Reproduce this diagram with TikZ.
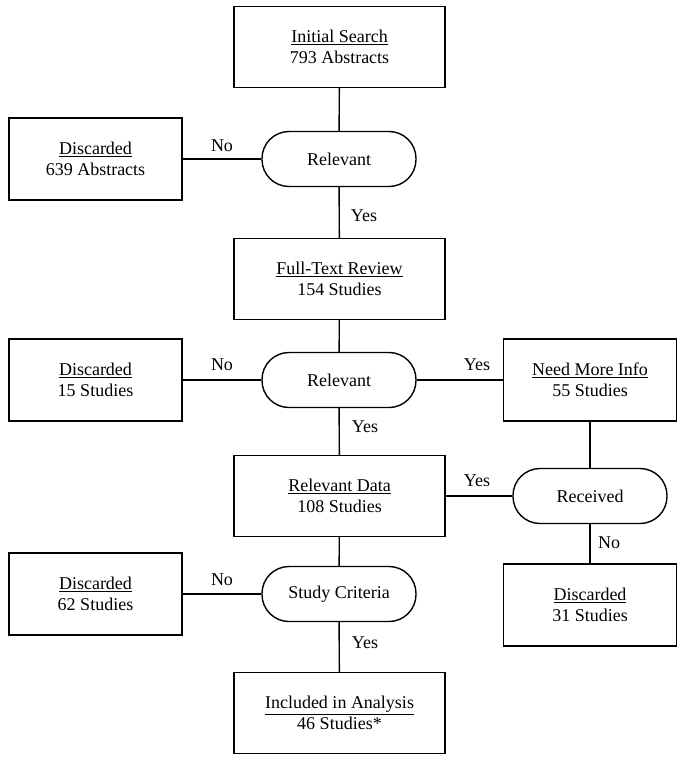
\documentclass[tikz,border=0pt]{standalone}
\usepackage{fontspec}
\setmainfont{Liberation Serif}
\begin{document}
\begin{tikzpicture}[x=1pt,y=1pt,
  every node/.style={font=\fontsize{18}{21}\selectfont, inner sep=0pt},
  bigbox/.style={draw, line width=1.4pt, minimum width=211pt, minimum height=81pt, align=center},
  sidebox/.style={draw, line width=1.4pt, minimum width=173pt, minimum height=82pt, align=center},
  decide/.style={draw, line width=1.4pt, rounded corners=27pt, minimum width=154pt, minimum height=55pt, align=center},
  conn/.style={line width=1.4pt},
  lbl/.style={}
]
\useasboundingbox (0,0) rectangle (685,-763);
\node[bigbox] (init) at (339.5,-47) {\underline{Initial Search}\\793 Abstracts};
\node[sidebox] (disc1) at (95.5,-159) {\underline{Discarded}\\639 Abstracts};
\node[decide] (rel1) at (339,-159) {Relevant};
\node[bigbox] (full) at (339.5,-279) {\underline{Full-Text Review}\\154 Studies};
\node[sidebox] (disc2) at (95.5,-380) {\underline{Discarded}\\15 Studies};
\node[decide] (rel2) at (339,-380) {Relevant};
\node[sidebox] (need) at (590,-380) {\underline{Need More Info}\\55 Studies};
\node[bigbox] (data) at (339.5,-496) {\underline{Relevant Data}\\108 Studies};
\node[decide] (recv) at (590,-496) {Received};
\node[sidebox] (disc3) at (95.5,-594) {\underline{Discarded}\\62 Studies};
\node[decide] (crit) at (339,-594) {Study Criteria};
\node[sidebox] (disc4) at (590,-605) {\underline{Discarded}\\31 Studies};
\node[bigbox] (incl) at (339.5,-713) {\underline{Included in Analysis}\\46 Studies*};

\draw[conn] (init) -- (rel1);
\draw[conn] (rel1) -- (disc1);
\draw[conn] (rel1) -- (full);
\draw[conn] (full) -- (rel2);
\draw[conn] (rel2) -- (disc2);
\draw[conn] (rel2) -- (need);
\draw[conn] (rel2) -- (data);
\draw[conn] (need) -- (recv);
\draw[conn] (recv) -- (data);
\draw[conn] (recv) -- (disc4);
\draw[conn] (data) -- (crit);
\draw[conn] (crit) -- (disc3);
\draw[conn] (crit) -- (incl);

\node[lbl] (l1) at (222,-146) {No};
\node[lbl] (l2) at (364,-216) {Yes};
\node[lbl] (l3) at (222,-365) {No};
\node[lbl] (l4) at (477,-365) {Yes};
\node[lbl] (l5) at (365,-427) {Yes};
\node[lbl] (l6) at (477,-481) {Yes};
\node[lbl] (l7) at (609,-543) {No};
\node[lbl] (l8) at (222,-580) {No};
\node[lbl] (l9) at (365,-643) {Yes};
\end{tikzpicture}
\end{document}
